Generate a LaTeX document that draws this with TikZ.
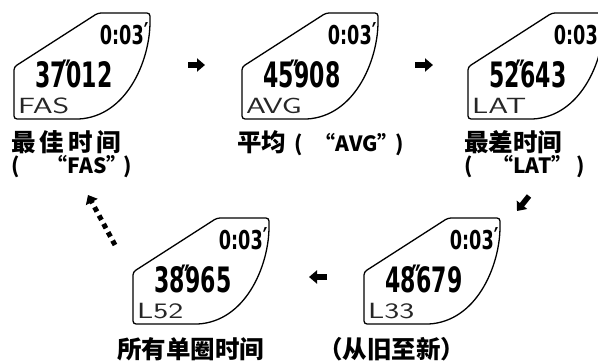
\documentclass[tikz,border=0pt]{standalone}
\usepackage{fontspec}
\setmainfont{Noto Sans CJK SC}
\newfontfamily\lcdfont{DejaVu Sans}
\usetikzlibrary{arrows.meta}
\newcommand{\cj}[1]{{\fontsize{24.5}{26}\selectfont #1}}
\tikzset{
  x=1pt, y=-1pt,
  panelline/.style={line width=1.3pt, rounded corners=3pt, line join=round},
  bigdig/.style={inner sep=0pt, font=\lcdfont\bfseries\fontsize{35}{35}\selectfont},
  timedig/.style={inner sep=0pt, font=\lcdfont\bfseries\fontsize{26}{26}\selectfont},
  lcdlab/.style={inner sep=0pt, font=\sffamily\fontsize{22}{22}\selectfont, text=black!85},
  lab/.style={inner sep=0pt, font=\bfseries\fontsize{21}{24}\selectfont},
  bigarrow/.style={line width=5.5pt, -{Triangle[length=8pt,width=13pt]}},
  dotarrow/.style={line width=5pt, dash pattern=on 5pt off 4.5pt, -{Triangle[length=8pt,width=13pt]}},
  pics/lcd/.style n args={4}{code={
    \draw[panelline] (84,0) -- (136,0) -- (136,6)
      .. controls (136,45) and (115,100) .. (66,106) -- (0,106) -- (0,54) -- cycle;
    \node[bigdig] (#4-main) at (60,61) {\scalebox{0.63}[1]{#1\makebox[0pt][c]{\raisebox{2pt}{″}}#2}};
    \node[timedig, anchor=east] (#4-time) at (130,21) {\scalebox{0.68}[1]{0:03\makebox[0pt][l]{\raisebox{3pt}{′}}}\hspace{3pt}};
    \node[lcdlab, anchor=west] (#4-lab) at (4,93) {\scalebox{1.45}[1]{#3}};
  }}
}
\begin{document}
\begin{tikzpicture}
\useasboundingbox (0,0) rectangle (598,361);
\clip (0,0) rectangle (598,361);
\fill[white] (0,0) rectangle (598,361);
% panels
\pic at (14,13) {lcd={37}{012}{FAS}{p1}};
\pic at (242,13) {lcd={45}{908}{AVG}{p2}};
\pic at (468,13) {lcd={52}{643}{LAT}{p3}};
\pic at (364,218) {lcd={48}{679}{L33}{p5}};
\pic at (133,218) {lcd={38}{965}{L52}{p4}};
% labels
\node[lab, anchor=base west] (l1a) at (11,152) {\cj{最\hspace{4pt}佳\hspace{4pt}时\hspace{4pt}间}};
\node[lab, anchor=base west] (l1b) at (11,174) {(\hspace{27pt}“FAS”\hspace{-4pt})};
\node[lab, anchor=base west] (l2) at (237,152) {\cj{平均}\hspace{8pt}(\hspace{12pt}“AVG”\hspace{-3pt})};
\node[lab, anchor=base west] (l3a) at (464,152) {\cj{最差时间}};
\node[lab, anchor=base west] (l3b) at (464,174) {(\hspace{20pt}“LAT”\hspace{4pt})};
\node[lab, anchor=base west] (l4) at (117,358) {\cj{所有单圈时间\hspace{54pt}（从旧至新）}};
% arrows
\coordinate (a1s) at (188,65); \coordinate (a1e) at (205,65);
\coordinate (a2s) at (415,65); \coordinate (a2e) at (433,65);
\coordinate (a3s) at (529,196); \coordinate (a3e) at (517,211);
\coordinate (a4s) at (327,277); \coordinate (a4e) at (309,277);
\coordinate (a5s) at (115,245); \coordinate (a5e) at (88,195);
\draw[bigarrow] (a1s) -- (a1e);
\draw[bigarrow] (a2s) -- (a2e);
\draw[bigarrow] (a3s) -- (a3e);
\draw[bigarrow] (a4s) -- (a4e);
\draw[dotarrow] (a5s) -- (a5e);
\end{tikzpicture}
\end{document}
